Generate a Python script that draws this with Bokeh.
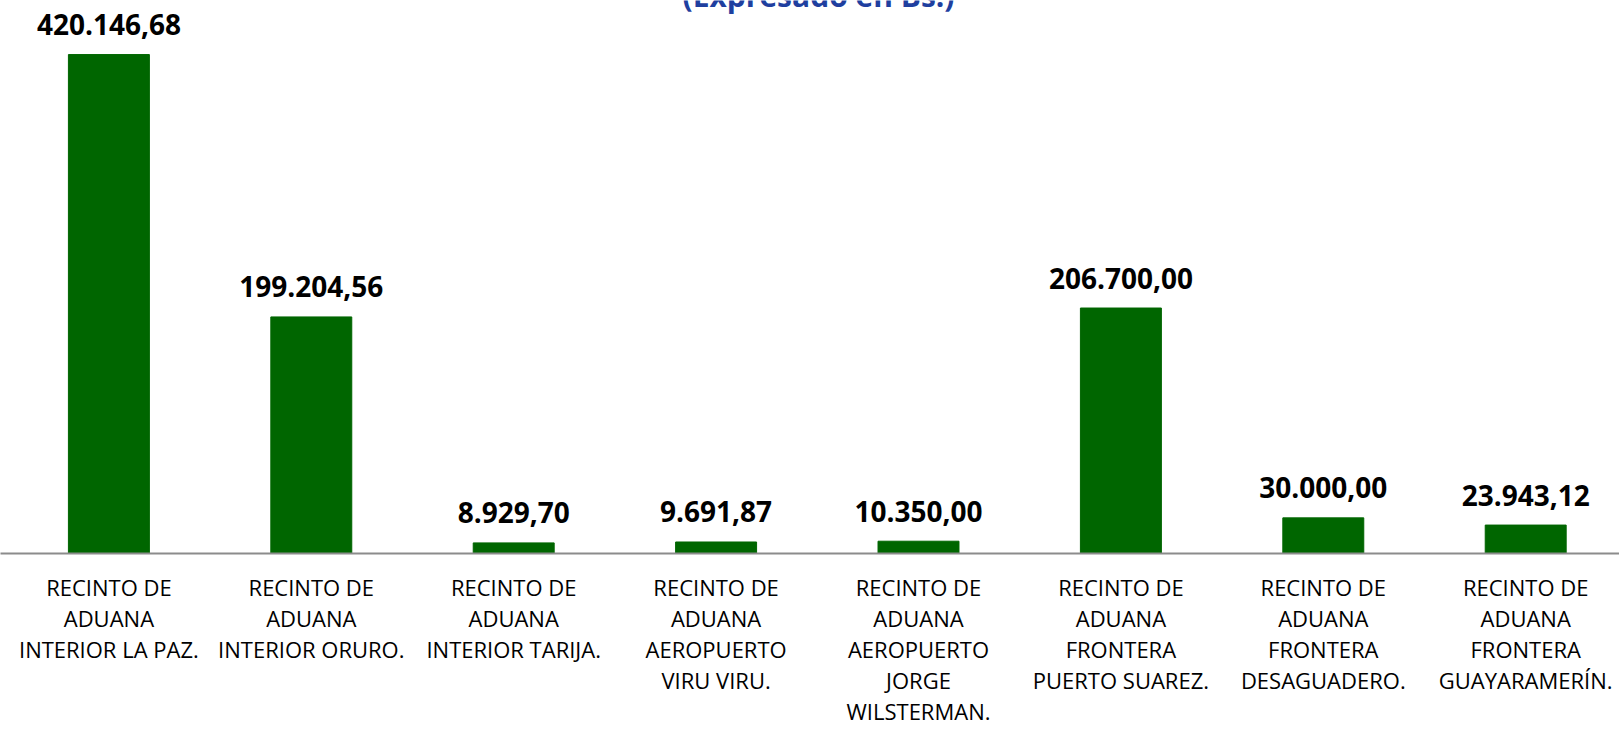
from bokeh.plotting import figure
from bokeh.models import ColumnDataSource, Range1d, FixedTicker, Label
from bokeh.core.properties import value
from bokeh.embed import file_html
from bokeh.resources import INLINE

# ---- data ----
categories = [
    "RECINTO DE\nADUANA\nINTERIOR LA PAZ.",
    "RECINTO DE\nADUANA\nINTERIOR ORURO.",
    "RECINTO DE\nADUANA\nINTERIOR TARIJA.",
    "RECINTO DE\nADUANA\nAEROPUERTO\nVIRU VIRU.",
    "RECINTO DE\nADUANA\nAEROPUERTO\nJORGE\nWILSTERMAN.",
    "RECINTO DE\nADUANA\nFRONTERA\nPUERTO SUAREZ.",
    "RECINTO DE\nADUANA\nFRONTERA\nDESAGUADERO.",
    "RECINTO DE\nADUANA\nFRONTERA\nGUAYARAMERÍN.",
]
values = [420146.68, 199204.56, 8929.70, 9691.87, 10350.00, 206700.00, 30000.00, 23943.12]
value_labels = ["420.146,68", "199.204,56", "8.929,70", "9.691,87",
                "10.350,00", "206.700,00", "30.000,00", "23.943,12"]
subtitle = "(Expresado en Bs.)"

# ---- layout constants ----
W, H = 1619, 729
cat_px = 202.4            # pixels per category
first_center_px = 108.4   # centre of first bar from the left edge
x_start = -first_center_px / cat_px
x_end = x_start + W / cat_px
units_per_px = values[0] / 498.5
frame_h = 552.5
y_end = frame_h * units_per_px

xs = list(range(len(values)))
src = ColumnDataSource(dict(x=xs, v=values, lbl=value_labels))

p = figure(width=W, height=H, output_backend="svg", toolbar_location=None,
           x_range=Range1d(x_start, x_end), y_range=Range1d(0, y_end),
           y_axis_location=None,
           min_border_left=0, min_border_right=0, min_border_top=0, min_border_bottom=0)
p.outline_line_color = None
p.xgrid.visible = False
p.ygrid.visible = False
p.background_fill_color = "white"
p.border_fill_color = "white"

p.vbar(x="x", top="v", width=0.4, source=src, fill_color="#006600", line_color="#006600")

p.text(x="x", y="v", text="lbl", source=src,
       text_font=value("Open Sans"), text_font_style="bold", text_font_size="28px",
       text_align="center", text_baseline="alphabetic", y_offset=-30, text_color="black")

ax = p.xaxis[0]
ax.ticker = FixedTicker(ticks=xs)
ax.major_label_overrides = {i: c for i, c in zip(xs, categories)}
ax.major_tick_line_color = None
ax.minor_tick_line_color = None
ax.axis_line_color = "#8c8c8c"
ax.axis_line_width = 2
ax.major_label_text_font = "Open Sans"
ax.major_label_text_font_size = "22px"
ax.major_label_text_color = "black"
ax.major_label_text_line_height = 1.04
ax.major_label_standoff = 12

title = Label(x=818 / cat_px + x_start, y=y_end + 5 * units_per_px,
              text=subtitle, text_align="center", text_baseline="alphabetic",
              text_font="Open Sans", text_font_style="bold", text_font_size="30px",
              text_color="#1f3f9f")
p.add_layout(title)

open("out.html", "w").write(file_html(p, INLINE))
